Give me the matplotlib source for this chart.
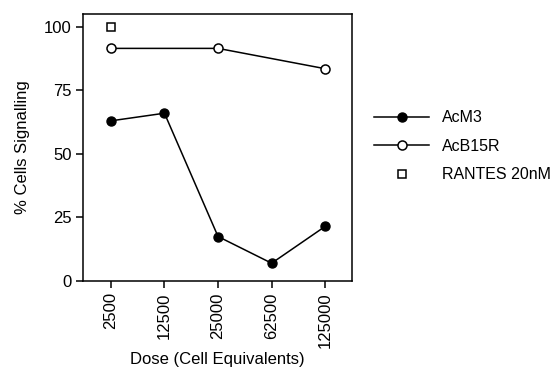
import matplotlib
matplotlib.use("Agg")
import matplotlib.pyplot as plt

plt.rcParams['font.family'] = ['Liberation Sans', 'DejaVu Sans']

# data
doses = ["2500", "12500", "25000", "62500", "125000"]
acm3 = [63, 66, 17.5, 7, 21.5]
acb15r_x = [0, 2, 4]
acb15r = [91.5, 91.5, 83.5]
rantes_x = [0]
rantes = [100]

fs = 12

fig = plt.figure(figsize=(5.57, 3.70), dpi=100)
ax = fig.add_axes([0.149, 0.2405, 0.483, 0.7215])

ax.plot(range(len(doses)), acm3, color="black", lw=1.1, marker="o",
        ms=6.5, mfc="black", mec="black", label="AcM3")
ax.plot(acb15r_x, acb15r, color="black", lw=1.1, marker="o",
        ms=6.5, mfc="white", mec="black", mew=1.1, label="AcB15R")
ax.plot(rantes_x, rantes, ls="none", marker="s", ms=6,
        mfc="white", mec="black", mew=1.1, label="RANTES 20nM")

ax.set_xlim(-0.52, 4.5)
ax.set_ylim(0, 105)
ax.set_yticks([0, 25, 50, 75, 100])
ax.set_xticks(range(len(doses)))
ax.set_xticklabels(doses, rotation=90)
ax.tick_params(direction="out", length=5, width=1.1, labelsize=fs,
               colors="black", pad=3)
for s in ax.spines.values():
    s.set_linewidth(1.1)

ax.set_ylabel("% Cells Signalling", fontsize=fs, labelpad=10)
ax.set_xlabel("Dose (Cell Equivalents)", fontsize=fs, labelpad=3)

ax.legend(loc="center left", bbox_to_anchor=(1.03, 0.505), frameon=False,
          handlelength=3.4, labelspacing=0.85, handletextpad=0.8,
          fontsize=11.5)

fig.savefig("out.png", dpi=100)
